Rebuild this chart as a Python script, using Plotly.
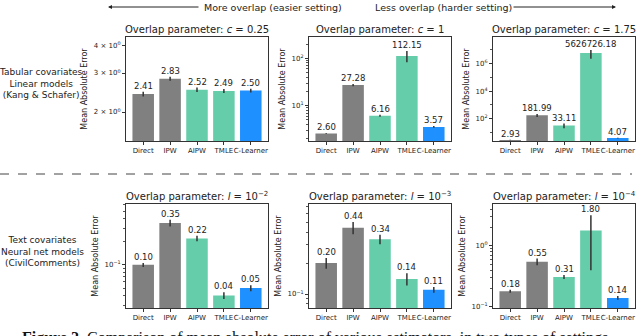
import math

import plotly.graph_objects as go
from plotly.subplots import make_subplots

methods = ["Direct", "IPW", "AIPW", "TMLE", "C-Learner"]
bar_colors = ["#808080", "#808080", "#66CDAA", "#66CDAA", "#1E90FF"]

# top row: tabular covariates, linear models (Kang & Schafer)
mae_c025 = [2.41, 2.83, 2.52, 2.49, 2.50]
err_c025 = [0.06, 0.06, 0.06, 0.05, 0.05]
mae_c1 = [2.60, 27.28, 6.16, 112.15, 3.57]
err_c1 = [0.05, 1.5, 0.3, 30.0, 0.15]
mae_c175 = [2.93, 181.99, 33.11, 5626726.18, 4.07]
err_c175 = [0.1, 45.0, 12.0, 3.5e6, 0.3]

# bottom row: text covariates, neural net models (CivilComments)
mae_l2 = [0.10, 0.35, 0.22, 0.04, 0.05]
err_l2 = [0.006, 0.035, 0.018, 0.004, 0.0045]
mae_l3 = [0.20, 0.44, 0.34, 0.14, 0.11]
err_l3 = [0.024, 0.06, 0.036, 0.019, 0.007]
mae_l4 = [0.18, 0.55, 0.31, 1.80, 0.14]
err_l4 = [0.01, 0.07, 0.023, 1.4, 0.01]

titles = [
    "Overlap parameter: <i>c</i> = 0.25",
    "Overlap parameter: <i>c</i> = 1",
    "Overlap parameter: <i>c</i> = 1.75",
    "Overlap parameter: <i>l</i> = 10<sup>\u22122</sup>",
    "Overlap parameter: <i>l</i> = 10<sup>\u22123</sup>",
    "Overlap parameter: <i>l</i> = 10<sup>\u22124</sup>",
]

W, H = 640, 336
FONT = "DejaVu Sans"
INK = "#222222"


def log_minors(lo, hi):
    out = []
    for d in range(math.floor(lo) - 1, math.ceil(hi) + 1):
        for m in range(2, 10):
            v = m * 10 ** d
            if lo < math.log10(v) < hi:
                out.append(v)
    return out


# (values, errors, log range, major ticks, tick labels, minor ticks)
panels = [
    (mae_c025, err_c025, [0.17, 0.64], [2, 3, 4],
     ["2 \u00d7 10<sup>0</sup>", "3 \u00d7 10<sup>0</sup>", "4 \u00d7 10<sup>0</sup>"], []),
    (mae_c1, err_c1, [0.255, 2.45], [10, 100],
     ["10<sup>1</sup>", "10<sup>2</sup>"], log_minors(0.255, 2.45)),
    (mae_c175, err_c175, [0.4, 7.9], [1e2, 1e4, 1e6],
     ["10<sup>2</sup>", "10<sup>4</sup>", "10<sup>6</sup>"], [1e1, 1e3, 1e5, 1e7]),
    (mae_l2, err_l2, [-1.56, -0.21], [0.1],
     ["10<sup>\u22121</sup>"], log_minors(-1.56, -0.21)),
    (mae_l3, err_l3, [-1.136, -0.126], [0.1],
     ["10<sup>\u22121</sup>"], log_minors(-1.136, -0.126)),
    (mae_l4, err_l4, [-1.02, 0.69], [0.1, 1],
     ["10<sup>\u22121</sup>", "10<sup>0</sup>"], log_minors(-1.02, 0.69)),
]

cols_px = [(126, 268), (309, 451), (493, 635)]
rows_px = [(37, 141), (204, 308)]

fig = make_subplots(rows=2, cols=3)

annotations = []
for i, (vals, errs, yrange, tv, tt, minors) in enumerate(panels):
    r, c = i // 3, i % 3
    fig.add_trace(
        go.Bar(
            x=methods, y=vals, marker_color=bar_colors, marker_line_width=0,
            error_y=dict(type="data", array=errs, color="#333333", thickness=1.5, width=0),
            showlegend=False,
        ),
        row=r + 1, col=c + 1,
    )
    n = "" if i == 0 else str(i + 1)
    x0, x1 = cols_px[c]
    y0, y1 = rows_px[r]
    fig.update_layout({
        "xaxis" + n: dict(
            domain=[x0 / W, x1 / W], range=[-0.64, 4.64], automargin=False,
            showline=True, mirror=True, linecolor="#333333", linewidth=1,
            ticks="outside", ticklen=3, tickcolor="#333333", showgrid=False,
            tickangle=0, tickfont=dict(size=7, color=INK),
        ),
        "yaxis" + n: dict(
            domain=[1 - y1 / H, 1 - y0 / H], type="log", range=yrange, automargin=False,
            tickmode="array", tickvals=tv, ticktext=tt,
            showline=True, mirror=True, linecolor="#333333", linewidth=1,
            ticks="outside", ticklen=3, tickcolor="#333333", showgrid=False,
            tickfont=dict(size=7, color=INK),
            minor=dict(tickmode="array", tickvals=minors, ticks="outside",
                       ticklen=2, tickcolor="#555555", showgrid=False),
            title=dict(text="Mean Absolute Error", font=dict(size=8, color=INK), standoff=4),
        ),
    })
    # panel title
    annotations.append(dict(
        text=titles[i], xref="paper", yref="paper", x=(x0 + x1) / 2 / W,
        y=1 - y0 / H, xanchor="center", yanchor="bottom", yshift=0,
        showarrow=False, font=dict(size=10, color=INK),
    ))
    # value labels above the error bars
    for m, v, e in zip(methods, vals, errs):
        annotations.append(dict(
            text=f"{v:.2f}", x=m, y=math.log10(v + e), xref="x" + n, yref="y" + n,
            xanchor="center", yanchor="bottom", yshift=-1, showarrow=False,
            font=dict(size=8.5, color=INK),
        ))

# row labels
annotations += [
    dict(text="Tabular covariates<br>Linear models<br>(Kang & Schafer)",
         x=41 / W, y=1 - 83 / H, xref="paper", yref="paper", showarrow=False,
         xanchor="center", yanchor="middle",
         font=dict(size=9, color=INK), align="center"),
    dict(text="Text covariates<br>Neural net models<br>(CivilComments)",
         x=42 / W, y=1 - 251 / H, xref="paper", yref="paper", showarrow=False,
         xanchor="center", yanchor="middle",
         font=dict(size=9, color=INK), align="center"),
]

# overlap direction arrows
annotations += [
    dict(text="More overlap (easier setting)", x=273 / W, y=1 - 7 / H,
         xref="paper", yref="paper", xanchor="center", yanchor="middle",
         showarrow=False, font=dict(size=9.5, color=INK)),
    dict(text="Less overlap (harder setting)", x=443 / W, y=1 - 7 / H,
         xref="paper", yref="paper", xanchor="center", yanchor="middle",
         showarrow=False, font=dict(size=9.5, color=INK)),
    dict(text="", x=108 / W, y=1 - 7 / H, xref="paper", yref="paper",
         showarrow=True, ax=92, ay=0, arrowhead=2, arrowsize=0.8, arrowwidth=1,
         arrowcolor=INK, standoff=0),
    dict(text="", x=616 / W, y=1 - 7 / H, xref="paper", yref="paper",
         showarrow=True, ax=-104, ay=0, arrowhead=2, arrowsize=0.8, arrowwidth=1,
         arrowcolor=INK, standoff=0),
]

# caption (cut off at the bottom edge)
annotations.append(dict(
    text="<b>Figure 2.</b> Comparison of mean absolute error of various estimators, in two types of settings",
    x=20 / W, y=1 - 327 / H, xref="paper", yref="paper", xanchor="left", yanchor="top",
    showarrow=False, font=dict(family="Liberation Serif", size=16, color="#111111"),
))

fig.update_layout(
    width=W, height=H,
    margin=dict(l=0, r=0, t=0, b=0),
    paper_bgcolor="white", plot_bgcolor="white",
    font=dict(family=FONT, color=INK),
    bargap=0.2,
    annotations=annotations,
    shapes=[dict(type="line", xref="paper", yref="paper",
                 x0=0, x1=632 / W, y0=1 - 174 / H, y1=1 - 174 / H,
                 line=dict(color="#444444", width=1, dash="dash"))],
)

# drop the default 8px body margin so the figure sits at the window's corner
fig.write_html("out.html", config={"displayModeBar": False},
               post_script="document.body.style.margin = '0';")
